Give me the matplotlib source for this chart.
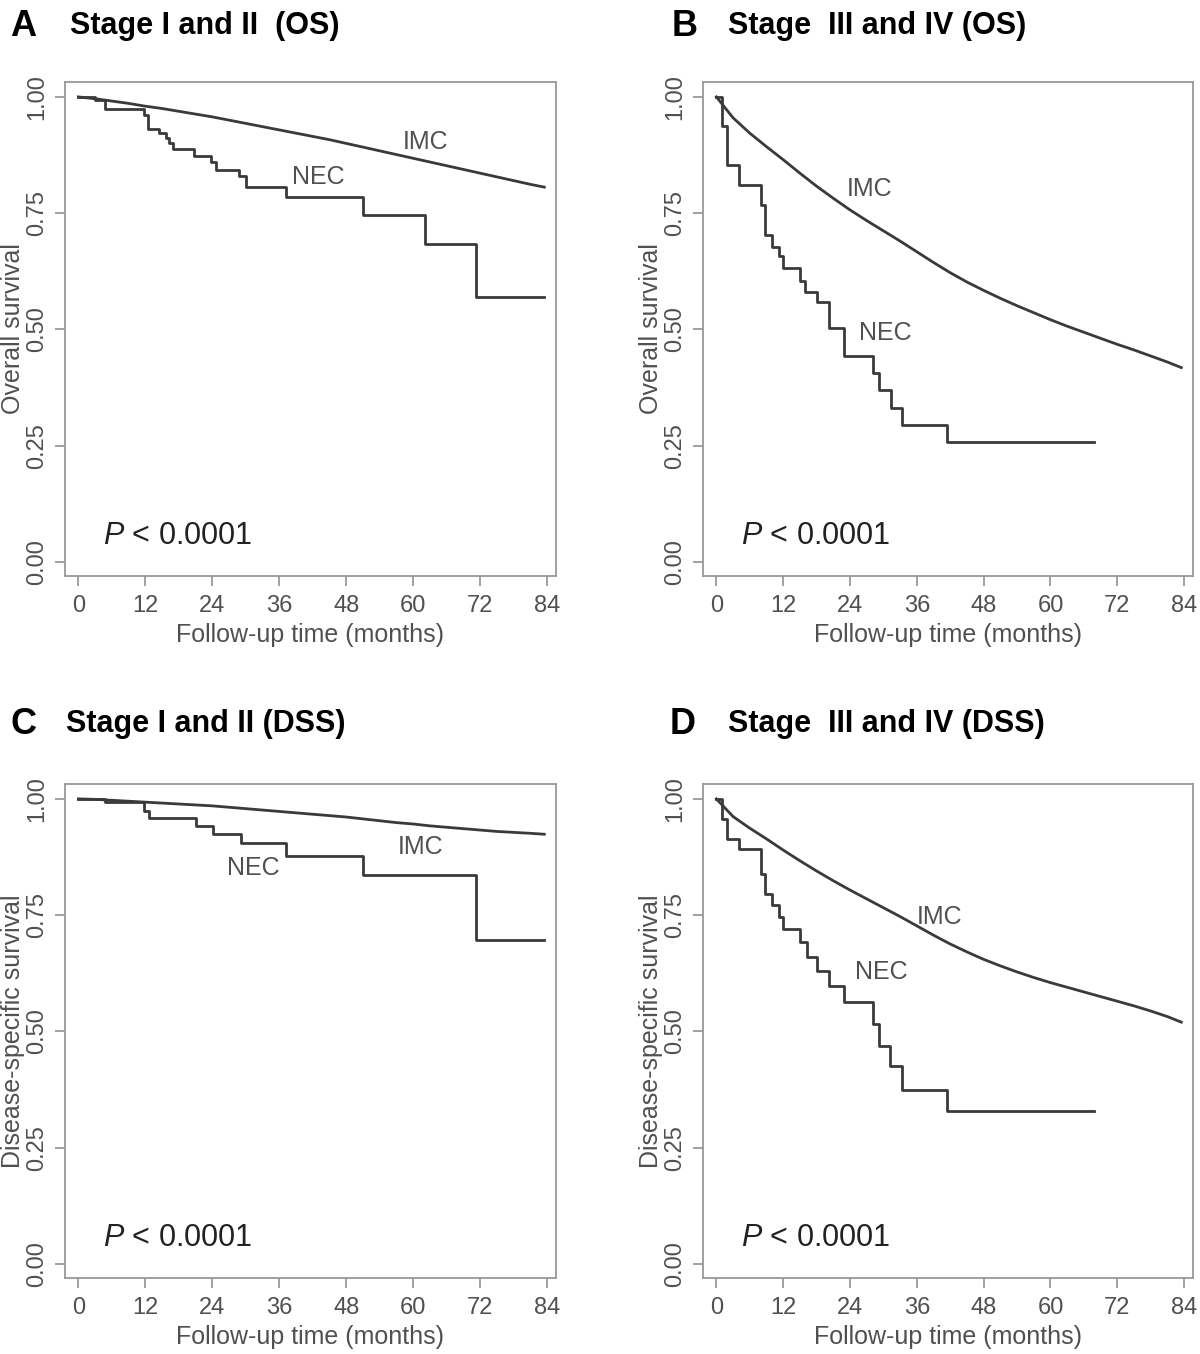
import matplotlib
matplotlib.use('Agg')
import matplotlib.pyplot as plt

plt.rcParams['font.family'] = ['Liberation Sans Narrow', 'Liberation Sans', 'DejaVu Sans']
plt.rcParams['mathtext.fontset'] = 'custom'
plt.rcParams['mathtext.it'] = 'Liberation Sans:italic'
plt.rcParams['mathtext.rm'] = 'Liberation Sans'

# x ticks (months)
month_ticks = [0, 12, 24, 36, 48, 60, 72, 84]
surv_ticks = [0.0, 0.25, 0.5, 0.75, 1.0]
surv_labels = ['0.00', '0.25', '0.50', '0.75', '1.00']

# IMC curves, read every 3 months
imc_t = [0, 3, 6, 9, 12, 15, 18, 21, 24, 27, 30, 33, 36, 39, 42, 45, 48, 51, 54,
         57, 60, 63, 66, 69, 72, 75, 78, 81, 83.5]
imc_a = [1.000, 0.996, 0.991, 0.986, 0.980, 0.975, 0.969, 0.963, 0.957, 0.950,
         0.943, 0.936, 0.929, 0.922, 0.915, 0.908, 0.900, 0.892, 0.884, 0.876,
         0.868, 0.860, 0.852, 0.844, 0.836, 0.828, 0.820, 0.812, 0.806]
imc_b = [1.000, 0.955, 0.922, 0.893, 0.865, 0.836, 0.808, 0.782, 0.757, 0.734,
         0.712, 0.690, 0.667, 0.644, 0.622, 0.602, 0.584, 0.567, 0.551, 0.536,
         0.521, 0.507, 0.494, 0.481, 0.468, 0.456, 0.443, 0.430, 0.418]
imc_c = [1.000, 0.999, 0.997, 0.995, 0.993, 0.991, 0.989, 0.987, 0.985, 0.982,
         0.979, 0.976, 0.973, 0.970, 0.967, 0.964, 0.961, 0.957, 0.953, 0.949,
         0.946, 0.942, 0.939, 0.936, 0.933, 0.930, 0.928, 0.926, 0.924]
imc_d = [1.000, 0.962, 0.937, 0.914, 0.890, 0.867, 0.845, 0.824, 0.804, 0.785,
         0.766, 0.747, 0.727, 0.707, 0.688, 0.671, 0.655, 0.641, 0.628, 0.616,
         0.605, 0.595, 0.585, 0.575, 0.565, 0.555, 0.544, 0.532, 0.520]

# NEC step curves
nec_a_t = [0, 2.9, 4.7, 11.8, 12.5, 14.5, 15.7, 16.3, 16.9, 20.8, 23.8, 24.7,
           28.8, 30.0, 37.2, 51.0, 62.2, 71.2, 83.5]
nec_a = [1.0, 0.994, 0.974, 0.961, 0.931, 0.922, 0.911, 0.900, 0.888, 0.873,
         0.861, 0.843, 0.829, 0.807, 0.784, 0.746, 0.684, 0.569, 0.569]
nec_b_t = [0, 1.0, 1.9, 4.0, 8.0, 8.8, 10.0, 11.2, 12.0, 15.1, 16.0, 18.1, 20.2,
           23.0, 28.2, 29.2, 31.3, 33.4, 41.4, 67.8]
nec_b = [1.0, 0.938, 0.854, 0.811, 0.768, 0.703, 0.678, 0.657, 0.632, 0.605,
         0.581, 0.560, 0.503, 0.443, 0.406, 0.370, 0.331, 0.295, 0.259, 0.259]
nec_c_t = [0, 4.7, 11.8, 12.6, 21.0, 24.1, 29.1, 37.2, 51.0, 71.2, 83.5]
nec_c = [1.0, 0.993, 0.975, 0.958, 0.941, 0.925, 0.905, 0.878, 0.837, 0.697, 0.697]
nec_d_t = [0, 1.0, 1.9, 4.0, 8.0, 8.8, 10.0, 11.2, 12.0, 15.1, 16.2, 18.1, 20.2,
           23.0, 28.2, 29.2, 31.2, 33.3, 41.4, 67.8]
nec_d = [1.0, 0.957, 0.914, 0.892, 0.839, 0.796, 0.771, 0.746, 0.720, 0.692,
         0.660, 0.631, 0.598, 0.564, 0.516, 0.469, 0.425, 0.375, 0.330, 0.330]

letters = ['A', 'B', 'C', 'D']
titles = ['Stage I and II  (OS)', 'Stage  III and IV (OS)',
          'Stage I and II (DSS)', 'Stage  III and IV (DSS)']
ylabels = ['Overall survival', 'Overall survival',
           'Disease-specific survival', 'Disease-specific survival']
imc_list = [imc_a, imc_b, imc_c, imc_d]
nec_t_list = [nec_a_t, nec_b_t, nec_c_t, nec_d_t]
nec_list = [nec_a, nec_b, nec_c, nec_d]
imc_pos = [(62.3, 0.903), (27.5, 0.802), (61.3, 0.897), (40.1, 0.746)]
nec_pos = [(43.0, 0.828), (30.4, 0.492), (31.3, 0.852), (29.7, 0.628)]

W, H = 1200, 1354
fig = plt.figure(figsize=(12, 13.54), dpi=100)
fig.patch.set_facecolor('white')

# axes boxes in pixels: left, top, right, bottom
boxes = [(65, 82, 556, 576), (703, 82, 1193, 576),
         (65, 784, 556, 1278), (703, 784, 1193, 1278)]
letter_x = [10, 672, 10, 670]
title_x = [70, 728, 66, 728]
title_y = [26, 26, 724, 724]

line_col = '#3a3a3a'
grey = '#505050'

for i in range(4):
    l, t, r, b = boxes[i]
    ax = fig.add_axes([l / W, 1 - b / H, (r - l) / W, (b - t) / H])
    ax.plot(imc_t, imc_list[i], color=line_col, lw=2.0)
    ax.step(nec_t_list[i], nec_list[i], where='post', color=line_col, lw=2.0)
    ax.set_xlim(-2.4, 85.6)
    ax.set_ylim(-0.03, 1.032)
    ax.set_xticks(month_ticks)
    ax.set_yticks(surv_ticks)
    ax.set_yticklabels(surv_labels, rotation=90, va='center')
    ax.tick_params(axis='both', direction='out', length=7, width=1.1,
                   color='#888888', labelcolor=grey, labelsize=17)
    ax.tick_params(axis='x', pad=7)
    ax.tick_params(axis='y', pad=5)
    for s in ax.spines.values():
        s.set_color('#999999')
        s.set_linewidth(1.3)
    ax.set_xlabel('Follow-up time (months)', fontsize=18, color=grey, labelpad=4)
    ax.set_ylabel(ylabels[i], fontsize=18, color=grey, labelpad=1)
    ax.text(imc_pos[i][0], imc_pos[i][1], 'IMC', fontsize=18, color=grey,
            ha='center', va='center')
    ax.text(nec_pos[i][0], nec_pos[i][1], 'NEC', fontsize=18, color=grey,
            ha='center', va='center')
    ax.text(4.5, 0.055, r'$P$ < 0.0001', fontsize=22, color='#222222',
            ha='left', va='center', family=['Liberation Sans', 'DejaVu Sans'])

    fig.text(letter_x[i] / W, 1 - title_y[i] / H, letters[i], fontsize=26,
             fontweight='bold', va='center', ha='left',
             family=['Liberation Sans', 'DejaVu Sans'])
    fig.text(title_x[i] / W, 1 - title_y[i] / H, titles[i], fontsize=22,
             fontweight='bold', va='center', ha='left',
             family=['Liberation Sans', 'DejaVu Sans'])

fig.savefig('out.png', dpi=100, facecolor='white')
